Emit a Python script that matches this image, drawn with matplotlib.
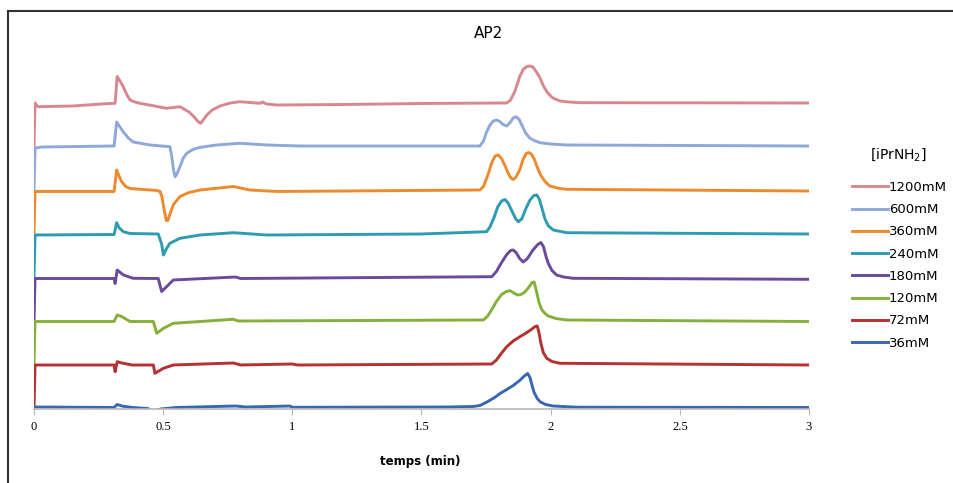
import matplotlib.pyplot as plt
from matplotlib.lines import Line2D

# Chromatograms (time in min, signal in arbitrary units relative to each trace's baseline)
labels = ["1200mM", "600mM", "360mM", "240mM", "180mM", "120mM", "72mM", "36mM"]
colors = ["#D9878E", "#8FA8DA", "#EE8A2E", "#2E9AB3", "#6A4A9A", "#86B03C", "#B53030", "#3A68B0"]
offsets = [304, 263, 218.5, 175, 130.5, 87.5, 44, 1.5]

t_1200 = [0, 0.004, 0.015, 0.15, 0.29, 0.314, 0.322, 0.328, 0.333, 0.346, 0.36, 0.372, 0.39, 0.41,
          0.514, 0.565, 0.58, 0.6, 0.62, 0.635, 0.645, 0.655, 0.669, 0.69, 0.72, 0.76, 0.797, 0.875,
          0.885, 0.9, 0.94, 1.2, 1.5, 1.8, 1.83, 1.845, 1.862, 1.881, 1.895, 1.908, 1.92, 1.931,
          1.945, 1.959, 1.972, 1.986, 2.0, 2.009, 2.036, 2.07, 2.114, 3.0]
s_1200 = [-43, 2, -1.7, -1, 1.5, 1.7, 28.5, 26, 24, 18, 10, 5, 3, 1.7,
          -3.3, -1.7, -4, -7, -12, -16.5, -18.3, -15, -10, -5, -1, 2, 3.3, 1.7,
          3, 1, 0, 0.5, 1.5, 2, 2, 5, 14, 29, 36, 38.5, 39, 38,
          33, 27, 19, 13, 9, 7, 4, 3, 2.3, 2]

t_600 = [0, 0.004, 0.03, 0.31, 0.32, 0.33, 0.346, 0.365, 0.384, 0.449, 0.526, 0.533, 0.54, 0.546,
         0.553, 0.565, 0.578, 0.591, 0.615, 0.643, 0.707, 0.797, 0.901, 1.03, 1.726, 1.74, 1.752,
         1.765, 1.778, 1.791, 1.803, 1.816, 1.830, 1.843, 1.855, 1.866, 1.878, 1.89, 1.903, 1.920,
         1.94, 1.959, 2.0, 2.062, 3.0]
s_600 = [-44, -2, -1, 0, 24, 20, 14, 8, 4, 1, -0.7, -10, -24, -30.7,
         -28, -20.7, -12, -7.3, -3.5, -1.3, 1, 2.7, 1, 0, 0, 5, 14,
         21, 25, 26, 24.5, 21.5, 20, 23.5, 28, 29.3, 26.5, 20, 13, 7.7,
         5, 3.3, 2, 1, 0]

t_360 = [0, 0.004, 0.31, 0.32, 0.33, 0.339, 0.355, 0.372, 0.475, 0.488, 0.495, 0.503, 0.512, 0.518,
         0.527, 0.54, 0.565, 0.6, 0.643, 0.772, 0.836, 0.94, 1.726, 1.74, 1.759, 1.772, 1.785, 1.797,
         1.81, 1.823, 1.836, 1.846, 1.855, 1.866, 1.881, 1.893, 1.905, 1.915, 1.925, 1.937, 1.95,
         1.962, 1.978, 1.997, 2.03, 2.062, 3.0]
s_360 = [-44, -1, -1, 20.5, 14, 9, 4, 2, 0, -1, -6, -18, -30, -30,
         -23, -14, -6, -2, 0.5, 4, 0.5, -1, 0.5, 4, 17, 28, 34.5, 35.5,
         32, 25, 17, 12.5, 11, 13.5, 21, 31, 37, 38, 36.5, 31, 22,
         15, 9, 4.5, 2.2, 1.2, -0.5]

t_240 = [0, 0.004, 0.31, 0.32, 0.33, 0.346, 0.372, 0.481, 0.494, 0.501, 0.512, 0.526, 0.565, 0.643,
         0.772, 0.901, 1.5, 1.752, 1.765, 1.78, 1.795, 1.81, 1.823, 1.835, 1.85, 1.865, 1.875, 1.888,
         1.905, 1.92, 1.935, 1.946, 1.956, 1.966, 1.978, 1.99, 2.01, 2.062, 3.0]
s_240 = [-43, -1, -0.5, 11.3, 6, 2.3, 0.5, 0, -10, -21, -15, -9.3, -4.3, -1,
         1.3, -1, 0, 2.3, 7, 16, 27, 33, 34.5, 31, 23, 15, 12.3, 15,
         26, 34, 38.5, 39, 35, 26, 15, 8.5, 4, 1.3, 0]

t_180 = [0, 0.004, 0.31, 0.314, 0.322, 0.346, 0.384, 0.481, 0.494, 0.514, 0.539, 0.78, 0.8,
         1.772, 1.79, 1.81, 1.83, 1.845, 1.855, 1.866, 1.88, 1.894, 1.91, 1.93, 1.95, 1.962, 1.972,
         1.982, 1.991, 2.005, 2.023, 2.05, 2.088, 3.0]
s_180 = [-43.5, 0, 0, -5, 8.5, 3.5, 0.2, 0, -13, -8, -1.5, 1.5, 0,
         1.8, 7, 16, 24, 28, 28.5, 26, 20, 16.5, 20, 28, 34, 36, 32,
         22, 15, 8, 3.5, 1.5, 0.2, -0.8]

t_120 = [0, 0.004, 0.31, 0.322, 0.339, 0.372, 0.462, 0.475, 0.501, 0.539, 0.772, 0.79,
         1.739, 1.755, 1.77, 1.79, 1.81, 1.828, 1.843, 1.858, 1.871, 1.885, 1.9, 1.915, 1.928, 1.936,
         1.945, 1.955, 1.965, 1.978, 1.991, 2.02, 2.062, 3.0]
s_120 = [-43, 0, 0, 6.5, 5, 0, 0, -11.8, -6.8, -1.8, 2.2, 0.5,
         1.5, 5, 11, 20, 27, 30, 30.8, 28.5, 26.5, 27, 29.5, 34, 39, 39.5,
         30, 19, 12, 8, 5.5, 3, 1.5, 0]

t_72 = [0, 0.004, 0.31, 0.314, 0.322, 0.34, 0.38, 0.462, 0.468, 0.501, 0.539, 0.772, 0.8, 1.0, 1.02,
        1.772, 1.79, 1.81, 1.83, 1.855, 1.881, 1.905, 1.925, 1.94, 1.948, 1.955, 1.962, 1.972, 1.985,
        2.005, 2.036, 3.0]
s_72 = [-43, 0, 0, -6.7, 3.3, 2, 0, 0, -8.3, -3.3, 0, 2, 0, 1, 0,
        1, 5, 12, 18.3, 24, 28.3, 32, 35.5, 38.5, 39, 32, 22, 12, 6.7,
        3.5, 1.7, 0]

t_36 = [0, 0.31, 0.322, 0.34, 0.38, 0.44, 0.462, 0.49, 0.55, 0.78, 0.82, 0.991, 1.0, 1.6,
        1.70, 1.726, 1.75, 1.78, 1.804, 1.83, 1.855, 1.88, 1.898, 1.911, 1.92, 1.928, 1.936, 1.948,
        1.959, 1.98, 2.01, 2.1, 3.0]
s_36 = [0.5, 0, 3, 1.5, 0, -1, -4, -1.5, 0, 1.5, 0.5, 1.5, 0.2, 0.5,
        1, 2, 5, 9.5, 14, 18, 22, 27, 31.5, 34, 30, 22, 15, 9,
        5.8, 3, 1.5, 0.3, 0]

times = [t_1200, t_600, t_360, t_240, t_180, t_120, t_72, t_36]
signals = [s_1200, s_600, s_360, s_240, s_180, s_120, s_72, s_36]

x_ticks = [0, 0.5, 1, 1.5, 2, 2.5, 3]
x_tick_labels = ["0", "0.5", "1", "1.5", "2", "2.5", "3"]

fig = plt.figure(figsize=(9.54, 4.83), dpi=100)
ax = fig.add_axes([34 / 954, 1 - 409 / 483, 775 / 954, 354 / 483])

for t, s, off, c, lab in zip(times, signals, offsets, colors, labels):
    y = [v + off for v in s]
    ax.plot(t, y, color=c, lw=2.1, label=lab, solid_joinstyle="round", solid_capstyle="round")

ax.set_xlim(0, 3)
ax.set_ylim(0, 354)
for side in ["top", "right", "left"]:
    ax.spines[side].set_visible(False)
ax.spines["bottom"].set_color("#B8B8B8")
ax.spines["bottom"].set_linewidth(1.2)
ax.set_yticks([])
ax.set_xticks(x_ticks)
ax.set_xticklabels(x_tick_labels, family="Liberation Serif", fontsize=9)
ax.tick_params(axis="x", length=4, color="#B8B8B8", pad=5)

fig.text(488 / 954, 1 - 34 / 483, "AP2", ha="center", va="center", fontsize=11)
fig.text(420 / 954, 1 - 462 / 483, "temps (min)", ha="center", va="center",
         fontsize=8.5, fontweight="bold")
fig.text(898 / 954, 1 - 155 / 483, "[iPrNH$_2$]", ha="center", va="center", fontsize=10)

handles = [Line2D([0], [0], color=c, lw=2.1) for c in colors]
fig.legend(handles, labels, loc="upper left", bbox_to_anchor=(852 / 954, 1 - 181 / 483),
           frameon=False, fontsize=9.5, handlelength=2.7, handletextpad=0.1,
           labelspacing=0.7, borderpad=0, borderaxespad=0)

# outer frame (top and left)
fig.add_artist(Line2D([8 / 954, 8 / 954], [0, 1 - 11 / 483], color="#333333", lw=1.5))
fig.add_artist(Line2D([8 / 954, 1], [1 - 11 / 483, 1 - 11 / 483], color="#333333", lw=1.5))

fig.savefig("out.png", dpi=100)
